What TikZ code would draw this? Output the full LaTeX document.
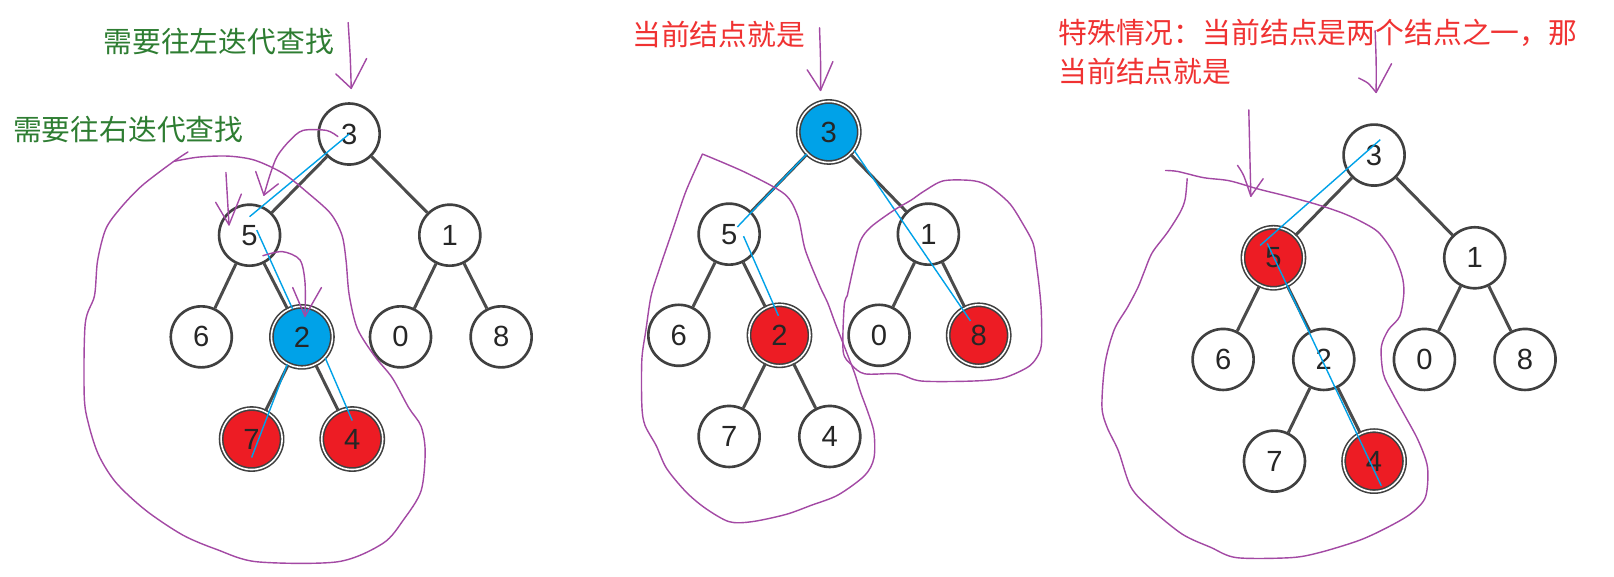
\documentclass[tikz,border=0pt]{standalone}
\usepackage{fontspec}
\newfontfamily\cjk{Noto Sans CJK SC}
\newfontfamily\digits{Liberation Sans}
\usetikzlibrary{calc}
\definecolor{penpurple}{RGB}{163,73,164}
\definecolor{markblue}{RGB}{0,162,232}
\definecolor{markred}{RGB}{237,28,36}
\definecolor{notegreen}{RGB}{46,125,50}
\definecolor{notered}{RGB}{240,50,50}
\definecolor{edgegray}{RGB}{75,75,75}

\begin{document}
\begin{tikzpicture}
  [x=0.01027cm,y=-0.01027cm,
   vertex/.style={draw=black!75,line width=0.75pt,circle,fill=white,minimum size=0.61cm,inner sep=0pt,
     font=\digits\fontsize{8.3}{10}\selectfont,text=black!85},
   rednode/.style={vertex,double=white,double distance=0.45pt,line width=0.45pt,fill=markred},
   bluenode/.style={rednode,fill=markblue},
   link/.style={edgegray,line width=0.85pt},
   scribble/.style={penpurple,line width=0.4pt,line cap=round,line join=round},
   bluemark/.style={markblue,line width=0.4pt},
   remark/.style={inner sep=0pt,anchor=base west,font=\cjk\fontsize{8.2}{11.1}\selectfont}]
  \useasboundingbox[fill=white] (0,0) rectangle (1571.6,560.9);

  % texts
  \node[remark,text=notegreen] (leftnote) at (100,51.6) {需要往左迭代查找};
  \node[remark,text=notegreen] (rightnote) at (12,136.6) {需要往右迭代查找};
  \node[remark,text=notered] (curnote) at (615,44.6) {当前结点就是};
  \node[remark,text=notered,anchor=north west,align=left] (specialnote) at (1030,18)
    {特殊情况：当前结点是两个结点之一，那\\当前结点就是};

  % first tree
  \node[vertex] (a3) at (340,130.5) {3};
  \node[vertex] (a5) at (243,229) {5};
  \node[vertex] (a1) at (438,229) {1};
  \node[vertex] (a6) at (196,328) {6};
  \node[bluenode] (a2) at (294,328) {2};
  \node[vertex] (a0) at (390,328) {0};
  \node[vertex] (a8) at (488,328) {8};
  \node[rednode] (a7) at (245,427.5) {7};
  \node[rednode] (a4) at (343,427.5) {4};

  % second tree
  \node[bluenode] (b3) at (807,128.5) {3};
  \node[vertex] (b5) at (710,228) {5};
  \node[vertex] (b1) at (904,228) {1};
  \node[vertex] (b6) at (661,326.5) {6};
  \node[rednode] (b2) at (759,326.5) {2};
  \node[vertex] (b0) at (856,326.5) {0};
  \node[rednode] (b8) at (953,326.5) {8};
  \node[vertex] (b7) at (710,425) {7};
  \node[vertex] (b4) at (808,425) {4};

  % third tree
  \node[vertex] (c3) at (1338,151) {3};
  \node[rednode] (c5) at (1240,251) {5};
  \node[vertex] (c1) at (1436,251) {1};
  \node[vertex] (c6) at (1191,350) {6};
  \node[vertex] (c2) at (1289,350) {2};
  \node[vertex] (c0) at (1387,350) {0};
  \node[vertex] (c8) at (1485,350) {8};
  \node[vertex] (c7) at (1241,449) {7};
  \node[rednode] (c4) at (1338,449) {4};

  \foreach \t in {a,b,c}
    \foreach \from/\to in {3/5,3/1,5/6,5/2,1/0,1/8,2/7,2/4}
      \draw[link] (\t\from) -- (\t\to);

  % blue search lines
  \draw[bluemark] (a3.center) -- ($(a5)+(0,-18)$);
  \draw[bluemark] ($(a5)+(7,-5)$) -- ($(a2)+(-9,-27)$);
  \draw[bluemark] (a2.242) -- ($(a7)+(0,18)$);
  \draw[bluemark] (a2.-42) -- ($(a4)+(0,-18)$);
  \draw[bluemark] (b3.225) -- ($(b5)+(8,-7)$);
  \draw[bluemark] ($(b5)+(14,2)$) -- ($(b2)+(-1,-19)$);
  \draw[bluemark] (b3.-36) -- ($(b8)+(-8,-14)$);
  \draw[bluemark] ($(c3)+(6,-15)$) -- ($(c5)+(-13,-12)$);
  \draw[bluemark] ($(c5)+(-6,-14)$) -- ($(c4)+(7,24)$);

  % hand drawn marks, first tree
  \draw[scribble] plot[smooth] coordinates {(339,22) (341,55) (342,86)};
  \draw[scribble] (327,72) -- (342,86) -- (357,57);
  \draw[scribble] plot[smooth] coordinates {(329,133) (318,127) (295,127) (282,137) (270,152) (263,170) (257,190)};
  \draw[scribble] (249,167) -- (257,190) -- (271,179);
  \draw[scribble] (220,168) -- (223,219);
  \draw[scribble] (210,197) -- (223,219) -- (235,189);
  \draw[scribble] plot[smooth] coordinates {(256,249) (275,245) (292,253) (297,275) (297,308)};
  \draw[scribble] (285,280) -- (297,308) -- (313,280);
  \draw[scribble] plot[smooth] coordinates {(183,148) (168,158) (138,181) (117,203) (103,223) (95,254)
    (92,288) (83,315) (82,385) (86,412) (96,443) (113,470) (142,497) (178,521) (211,535) (250,547)
    (329,547) (373,529) (393,506) (410,478) (414,440) (410,415) (398,397) (382,368) (365,347)
    (348,320) (340,287) (337,254) (333,229) (322,208) (300,188) (276,169) (248,156) (222,152)
    (193,153) (170,157)};

  % hand drawn marks, second tree
  \draw[scribble] plot[smooth] coordinates {(798,27) (799,60) (799,88)};
  \draw[scribble] (786,68) -- (799,88) -- (811,60);
  \draw[scribble] plot[smooth] coordinates {(684,150) (668,186) (655,224) (642,262) (634,288)
    (629,321) (625,350) (625,395) (628,414) (639,434) (649,456) (668,479) (687,495) (710,508)
    (732,508) (765,501) (790,492) (816,482) (842,463) (851,446) (851,421) (845,401) (838,382)
    (832,363) (822,337) (813,314) (806,295) (798,278) (784,243) (777,211) (764,189) (726,168)
    (684,150)};
  \draw[scribble] plot[smooth] coordinates {(825,288) (832,256) (838,234) (848,221) (870,205)
    (887,195) (900,186) (919,176) (948,176) (964,182) (983,198) (996,218) (1006,237) (1009,256)
    (1012,280) (1014,304) (1014,336) (1009,349) (1000,358) (977,368) (948,371) (897,371)
    (874,364) (842,364) (829,355) (821,342) (822,298) (825,288)};

  % hand drawn marks, third tree
  \draw[scribble] plot[smooth] coordinates {(1339,30) (1340,60) (1340,90)};
  \draw[scribble] plot[smooth] coordinates {(1323,76) (1332,81) (1340,90)};
  \draw[scribble] (1340,90) -- (1355,62);
  \draw[scribble] plot[smooth] coordinates {(1216,107) (1217,150) (1218,191)};
  \draw[scribble] plot[smooth] coordinates {(1205,161) (1211,171) (1218,191)};
  \draw[scribble] (1218,191) -- (1230,174);
  \draw[scribble] plot[smooth] coordinates {(1135,166) (1147,167) (1172,173) (1197,176) (1225,184)
    (1253,191) (1282,199) (1306,207) (1324,215) (1342,226) (1356,245) (1365,268) (1367,285)
    (1363,308) (1352,321) (1345,338) (1347,364) (1356,383) (1367,403) (1381,429) (1390,455)
    (1388,484) (1374,500) (1352,513) (1324,526) (1285,538) (1257,543) (1204,543) (1179,533)
    (1151,520) (1119,494) (1101,474) (1089,439) (1078,416) (1073,396) (1076,354) (1085,321)
    (1098,299) (1108,280) (1114,265) (1122,246) (1137,226) (1149,207) (1154,194) (1156,174)};
\end{tikzpicture}
\end{document}
